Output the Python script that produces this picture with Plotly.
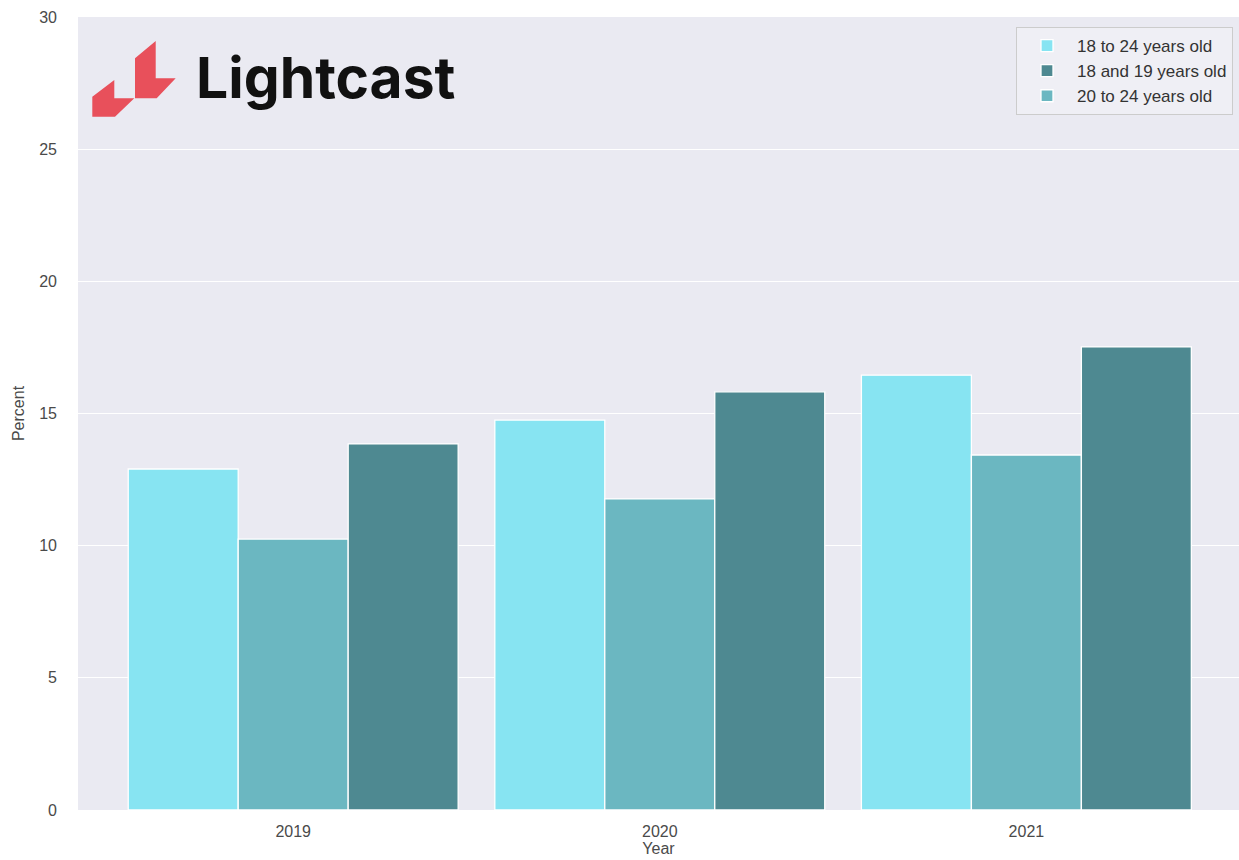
import plotly.graph_objects as go

years = ["2019", "2020", "2021"]
series_names = ["18 to 24 years old", "20 to 24 years old", "18 and 19 years old"]
vals_18_24 = [12.9, 14.75, 16.45]
vals_20_24 = [10.25, 11.77, 13.43]
vals_18_19 = [13.85, 15.82, 17.52]
colors = ["#87E4F2", "#6BB7C1", "#4E8991"]
legend_ranks = [1, 3, 2]
y_ticks = [0, 5, 10, 15, 20, 25, 30]

W, H = 1239, 860
ML, MR, MT, MB = 78, 0, 17, 50
PW, PH = W - ML - MR, H - MT - MB

def px(x):
    return (x - ML) / PW

def py(y):
    return (H - MB - y) / PH

fig = go.Figure()
for name, vals, col, rk in zip(series_names, [vals_18_24, vals_20_24, vals_18_19], colors, legend_ranks):
    fig.add_trace(go.Bar(
        x=list(range(len(years))), y=vals, name=name, legendrank=rk,
        marker=dict(color=col, line=dict(color="white", width=1.3)),
    ))

# Lightcast logo
def path(pts):
    s = "M " + " L ".join(f"{px(a):.5f},{py(b):.5f}" for a, b in pts) + " Z"
    return s

right_piece = [(135, 58.3), (155.7, 41), (155.7, 78.3), (175.7, 78.3), (156.7, 98.3), (135, 98.3)]
left_piece = [(92.3, 96.7), (114.3, 80), (114.3, 98.3), (134.3, 98.3), (115, 116.7), (92.3, 116.7)]
shapes = []
for pc in [right_piece, left_piece]:
    shapes.append(dict(type="path", xref="paper", yref="paper", path=path(pc),
                       fillcolor="#E8505B", line=dict(width=0), layer="above"))

fig.update_layout(
    width=W, height=H,
    margin=dict(l=ML, r=MR, t=MT, b=MB),
    paper_bgcolor="white",
    plot_bgcolor="#EAEAF2",
    barmode="group", bargap=0.1, bargroupgap=0,
    font=dict(family="Liberation Sans, Arial", size=16, color="#4a4a4a"),
    shapes=shapes,
    annotations=[dict(text="Lightcast", xref="paper", yref="paper", x=px(194), y=py(77),
                      xanchor="left", yanchor="middle", showarrow=False,
                      font=dict(family="Inter", size=57, color="#111111", weight=700))],
    legend=dict(x=px(1233), y=py(27), xanchor="right", yanchor="top",
                bgcolor="rgba(240,240,245,0.9)", bordercolor="#CCCCCC", borderwidth=1,
                itemwidth=50, tracegroupgap=0,
                font=dict(size=17, color="#333333")),
    showlegend=True,
)
fig.update_xaxes(
    tickmode="array", tickvals=list(range(len(years))), ticktext=years,
    range=[-0.587, 2.58], showgrid=False, zeroline=False, showline=False,
    ticks="", ticklabelstandoff=10,
    title=dict(text="Year", standoff=3, font=dict(size=16)),
)
fig.update_yaxes(
    range=[0, 30], tickvals=y_ticks, showgrid=True, gridcolor="white", gridwidth=1,
    zeroline=False, showline=False, ticks="", ticklabelstandoff=20,
    title=dict(text="Percent", standoff=10, font=dict(size=16)),
)
fig.write_html("out.html")
